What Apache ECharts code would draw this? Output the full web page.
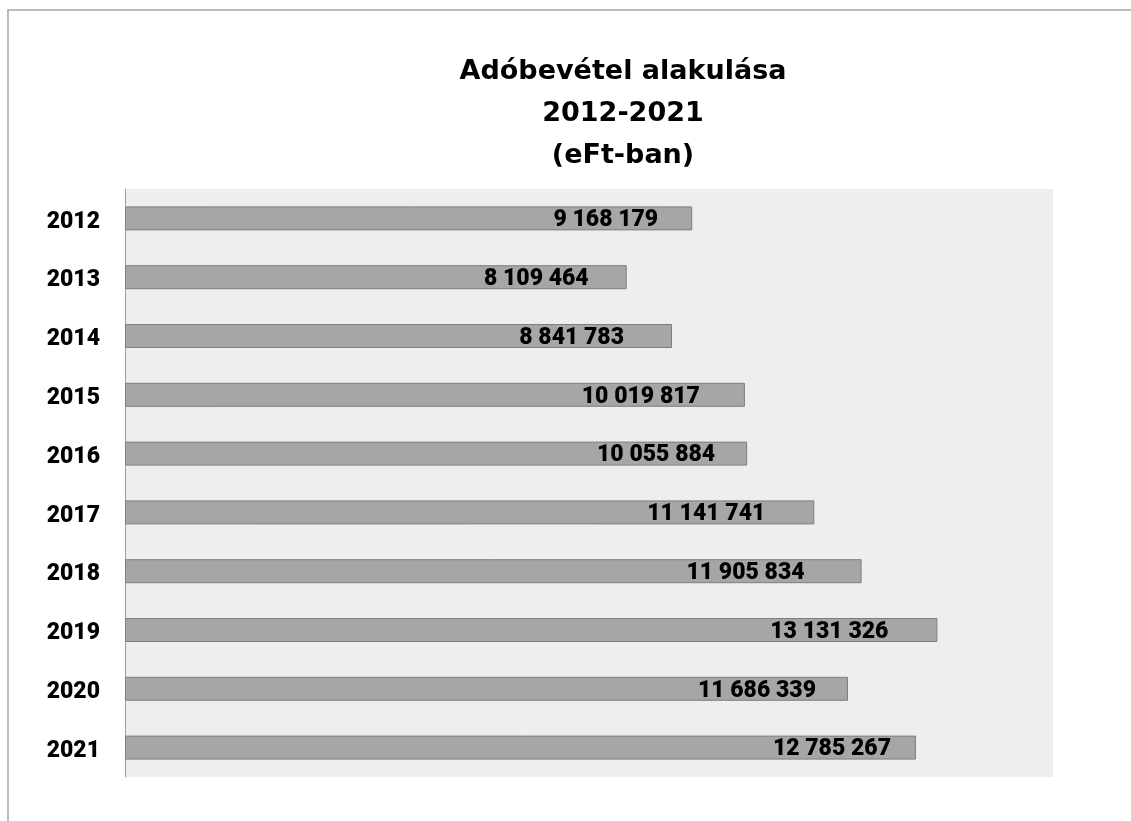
<!DOCTYPE html>
<html>
<head>
<meta charset="utf-8">
<title>Adóbevétel alakulása</title>
<script src="https://cdn.jsdelivr.net/npm/echarts@6/dist/echarts.min.js"></script>
<style>
  html, body { margin: 0; padding: 0; background: #ffffff; }
  #chart { width: 1131px; height: 821px; }
</style>
</head>
<body>
<div id="chart"></div>
<script>
// adatok
const years = ["2012", "2013", "2014", "2015", "2016", "2017", "2018", "2019", "2020", "2021"];
const revenue = [9168179, 8109464, 8841783, 10019817, 10055884, 11141741, 11905834, 13131326, 11686339, 12785267];

// label gap from bar end (px), the labels were nudged by hand in the original
const labelGap = [34, 38, 48, 45, 32, 49, 57, 49, 32, 25];

const fmt = (v) => String(v).replace(/\B(?=(\d{3})+(?!\d))/g, " ");

const myChart = echarts.init(document.getElementById("chart"));

myChart.setOption({
  animation: false,
  backgroundColor: "#ffffff",
  textStyle: { fontFamily: "Roboto" },
  title: {
    text: "Adóbevétel alakulása\n2012-2021\n(eFt-ban)",
    left: 618,
    textAlign: "center",
    top: 46,
    textStyle: {
      fontFamily: "DejaVu Sans",
      fontSize: 27,
      fontWeight: "bold",
      color: "#000000",
      lineHeight: 42
    }
  },
  graphic: [
    {
      type: "rect",
      shape: { x: 8, y: 10, width: 1300, height: 1000 },
      style: { fill: "none", stroke: "#a6a6a6", lineWidth: 1.5 },
      silent: true
    }
  ],
  grid: {
    left: 125,
    right: 78,
    top: 189,
    bottom: 44,
    show: true,
    backgroundColor: "#eeeeee",
    borderWidth: 0
  },
  xAxis: {
    type: "value",
    min: 0,
    max: 15000000,
    show: false
  },
  yAxis: {
    type: "category",
    data: years,
    inverse: true,
    axisLine: { show: true, lineStyle: { color: "#a0a0a0", width: 1 } },
    axisTick: { show: false },
    splitLine: { show: false },
    axisLabel: {
      margin: 25,
      verticalAlign: "top",
      lineHeight: 7,
      fontFamily: "Roboto",
      fontSize: 23,
      fontWeight: 900,
      color: "#000000"
    }
  },
  series: [
    {
      type: "bar",
      barWidth: 24,
      itemStyle: {
        color: "#a6a6a6",
        borderColor: "#7f7f7f",
        borderWidth: 1
      },
      data: revenue.map((v, i) => ({
        value: v,
        label: {
          show: true,
          position: "insideRight",
          distance: 0,
          offset: [-labelGap[i], 2],
          formatter: (p) => fmt(p.value),
          fontFamily: "Roboto",
          fontSize: 23,
          fontWeight: 900,
          color: "#000000"
        }
      }))
    }
  ]
});
</script>
</body>
</html>
